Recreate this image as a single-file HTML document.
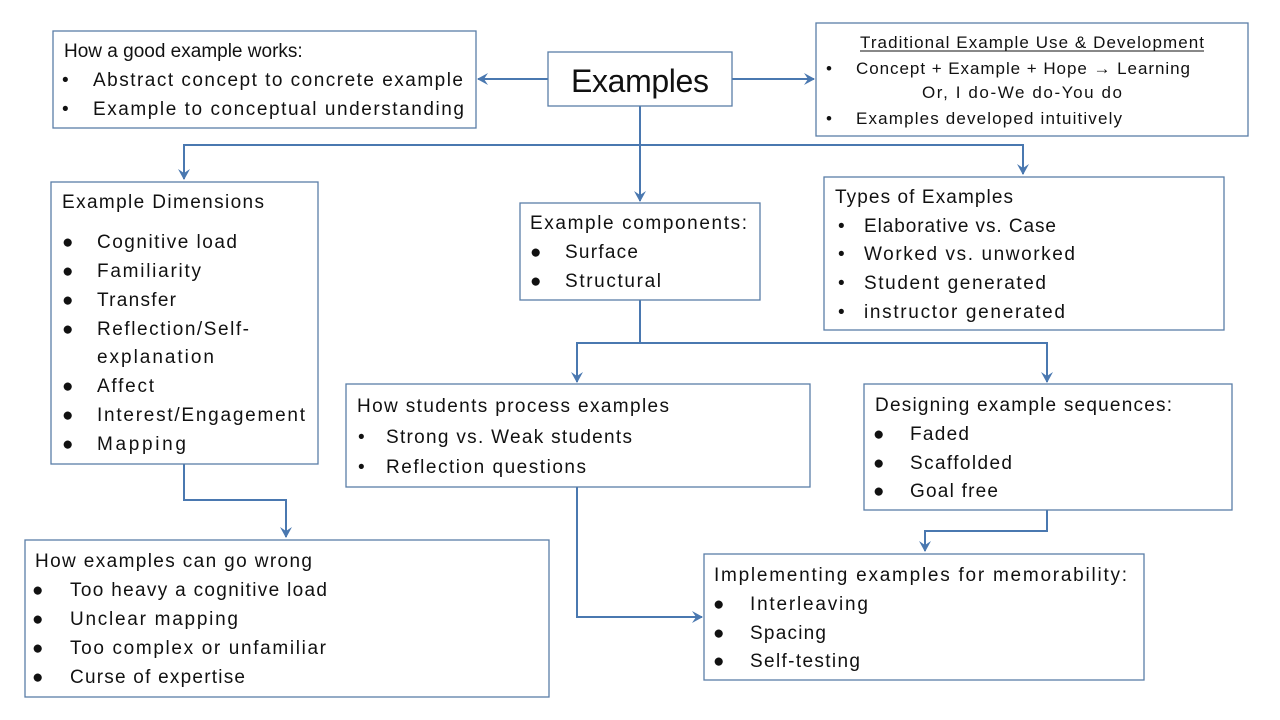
<!DOCTYPE html>
<html><head><meta charset="utf-8"><style>
html,body{margin:0;padding:0;background:#fff;}
svg{display:block;font-family:"Liberation Sans",Arial,sans-serif;}
text{fill:#111;font-size:19px;}
.b{fill:#fff;stroke:#5a7ea8;stroke-width:1.3;}
.l{fill:none;stroke:#4a78b0;stroke-width:2;}
.a{fill:#4a78b0;}
</style></head><body>
<svg width="1280" height="720" viewBox="0 0 1280 720" xmlns="http://www.w3.org/2000/svg">
<defs><marker id="m" markerWidth="12" markerHeight="12" refX="10" refY="6" orient="auto" markerUnits="userSpaceOnUse"><path d="M0,0 L11,6 L0,12 L4,6 Z" class="a"/></marker></defs>

<!-- connectors -->
<line class="l" x1="548" y1="79" x2="478" y2="79" marker-end="url(#m)"/>
<line class="l" x1="732" y1="79" x2="814" y2="79" marker-end="url(#m)"/>
<polyline class="l" points="640,106 640,145"/>
<polyline class="l" points="640,145 184,145 184,179" marker-end="url(#m)"/>
<polyline class="l" points="640,145 640,201" marker-end="url(#m)"/>
<polyline class="l" points="640,145 1023,145 1023,174" marker-end="url(#m)"/>
<polyline class="l" points="640,300 640,343 577,343 577,382" marker-end="url(#m)"/>
<polyline class="l" points="640,343 1047,343 1047,382" marker-end="url(#m)"/>
<polyline class="l" points="1047,510 1047,531 925,531 925,551" marker-end="url(#m)"/>
<polyline class="l" points="577,487 577,617 702,617" marker-end="url(#m)"/>
<polyline class="l" points="184,464 184,500 286,500 286,537" marker-end="url(#m)"/>

<!-- boxes -->
<rect class="b" x="53" y="31" width="423" height="97"/>
<text x="64" y="57">How a good example works:</text>
<text x="62" y="86">•</text><text x="93" y="86" textLength="370">Abstract concept to concrete example</text>
<text x="62" y="115">•</text><text x="93" y="115" textLength="371">Example to conceptual understanding</text>

<rect class="b" x="548" y="52" width="184" height="54"/>
<text x="640" y="92" text-anchor="middle" style="font-size:32px" textLength="138">Examples</text>

<rect class="b" x="816" y="23" width="432" height="113"/>
<text x="1032" y="48" text-anchor="middle" style="font-size:17px" textLength="344">Traditional Example Use &amp; Development</text>
<line x1="860" y1="51" x2="1204" y2="51" stroke="#111" stroke-width="1"/>
<text x="826" y="74" style="font-size:17px">•</text><text x="856" y="74" style="font-size:17px" textLength="334">Concept + Example + Hope → Learning</text>
<text x="1022" y="98" text-anchor="middle" style="font-size:17px" textLength="200">Or, I do-We do-You do</text>
<text x="826" y="124" style="font-size:17px">•</text><text x="856" y="124" style="font-size:17px" textLength="266">Examples developed intuitively</text>

<rect class="b" x="51" y="182" width="267" height="282"/>
<text x="62" y="208" textLength="202">Example Dimensions</text>
<g>
<text x="62" y="248">●</text><text x="97" y="248" textLength="140">Cognitive load</text>
<text x="62" y="277">●</text><text x="97" y="277" textLength="104">Familiarity</text>
<text x="62" y="306">●</text><text x="97" y="306" textLength="79">Transfer</text>
<text x="62" y="335">●</text><text x="97" y="335" textLength="152">Reflection/Self-</text>
<text x="97" y="363" textLength="117">explanation</text>
<text x="62" y="392">●</text><text x="97" y="392" textLength="57">Affect</text>
<text x="62" y="421">●</text><text x="97" y="421" textLength="208">Interest/Engagement</text>
<text x="62" y="450">●</text><text x="97" y="450" textLength="89">Mapping</text>
</g>

<rect class="b" x="520" y="203" width="240" height="97"/>
<text x="530" y="229" textLength="217">Example components:</text>
<text x="530" y="258">●</text><text x="565" y="258" textLength="73">Surface</text>
<text x="530" y="287">●</text><text x="565" y="287" textLength="96">Structural</text>

<rect class="b" x="824" y="177" width="400" height="153"/>
<text x="835" y="203" textLength="178">Types of Examples</text>
<text x="838" y="232">•</text><text x="864" y="232" textLength="192">Elaborative vs. Case</text>
<text x="838" y="260">•</text><text x="864" y="260" textLength="211">Worked vs. unworked</text>
<text x="838" y="289">•</text><text x="864" y="289" textLength="182">Student generated</text>
<text x="838" y="318">•</text><text x="864" y="318" textLength="201">instructor generated</text>

<rect class="b" x="346" y="384" width="464" height="103"/>
<text x="357" y="412" textLength="312">How students process examples</text>
<text x="358" y="443">•</text><text x="386" y="443" textLength="246">Strong vs. Weak students</text>
<text x="358" y="473">•</text><text x="386" y="473" textLength="200">Reflection questions</text>

<rect class="b" x="864" y="384" width="368" height="126"/>
<text x="875" y="411" textLength="297">Designing example sequences:</text>
<text x="873" y="440">●</text><text x="910" y="440" textLength="59">Faded</text>
<text x="873" y="469">●</text><text x="910" y="469" textLength="102">Scaffolded</text>
<text x="873" y="497">●</text><text x="910" y="497" textLength="88">Goal free</text>

<rect class="b" x="704" y="554" width="440" height="126"/>
<text x="714" y="581" textLength="413">Implementing examples for memorability:</text>
<text x="713" y="610">●</text><text x="750" y="610" textLength="118">Interleaving</text>
<text x="713" y="639">●</text><text x="750" y="639" textLength="76">Spacing</text>
<text x="713" y="667">●</text><text x="750" y="667" textLength="110">Self-testing</text>

<rect class="b" x="25" y="540" width="524" height="157"/>
<text x="35" y="567" textLength="277">How examples can go wrong</text>
<text x="32" y="596">●</text><text x="70" y="596" textLength="257">Too heavy a cognitive load</text>
<text x="32" y="625">●</text><text x="70" y="625" textLength="168">Unclear mapping</text>
<text x="32" y="654">●</text><text x="70" y="654" textLength="256">Too complex or unfamiliar</text>
<text x="32" y="683">●</text><text x="70" y="683" textLength="175">Curse of expertise</text>
</svg>
</body></html>
